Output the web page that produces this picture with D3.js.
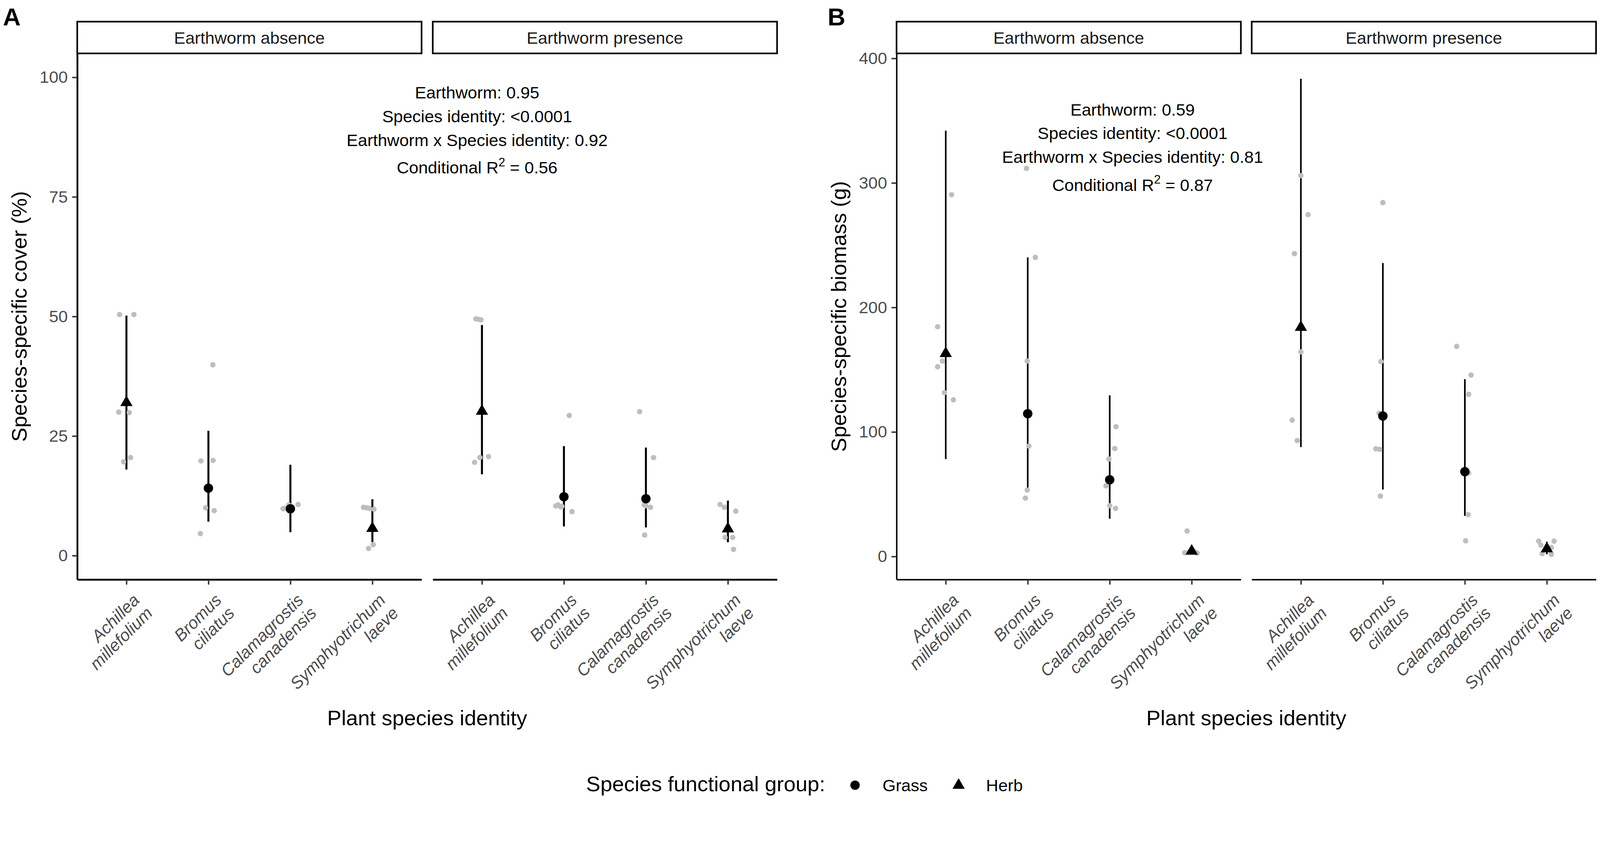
<!DOCTYPE html>
<html>
<head>
<meta charset="utf-8">
<script src="https://cdn.jsdelivr.net/npm/d3@7"></script>
<style>
  html, body { margin: 0; padding: 0; background: #fff; overflow: hidden; width: 100%; height: 100%; }
  #chart { display: block; width: 100vw; height: 100vh; }
  text { font-family: "Liberation Sans", Arial, sans-serif; }
</style>
</head>
<body>
<svg id="chart"></svg>
<script>
// ---- data ----
var species = ["Achillea millefolium", "Bromus ciliatus", "Calamagrostis canadensis", "Symphyotrichum laeve"];
var speciesLines = [["Achillea", "millefolium"], ["Bromus", "ciliatus"], ["Calamagrostis", "canadensis"], ["Symphyotrichum", "laeve"]];
var functionalGroup = ["Herb", "Grass", "Grass", "Herb"];
var treatments = ["Earthworm absence", "Earthworm presence"];
var groupLabels = ["Grass", "Herb"];

// A: species-specific cover (%)
var coverTicks = [0, 25, 50, 75, 100];
var coverMeanAbs = [32.0, 14.1, 9.8, 5.7];
var coverLowAbs = [18.0, 7.1, 4.9, 2.8];
var coverHighAbs = [50.2, 26.1, 19.0, 11.8];
var coverMeanPres = [30.2, 12.3, 11.9, 5.6];
var coverLowPres = [17.0, 6.1, 5.9, 2.8];
var coverHighPres = [48.2, 22.9, 22.6, 11.5];
var coverRawAbs = [
  [50.4, 50.4, 30.0, 29.9, 20.5, 19.6],
  [39.9, 19.8, 19.9, 10.0, 9.4, 4.6],
  [9.8, 10.6, 10.7, 9.3, 10.2, 9.9],
  [10.1, 9.9, 9.7, 2.3, 1.5, 10.0]
];
var coverJitAbs = [
  [-0.084, 0.091, -0.094, 0.034, 0.05, -0.034],
  [0.054, -0.091, 0.057, -0.034, 0.071, -0.098],
  [-0.09, -0.02, 0.094, -0.013, 0.02, -0.07],
  [-0.108, -0.04, 0.02, 0.01, -0.047, -0.074]
];
var coverRawPres = [
  [49.5, 49.3, 49.4, 20.7, 20.5, 19.5],
  [29.3, 10.6, 10.2, 9.2, 10.4, 10.3],
  [30.1, 20.5, 10.4, 10.1, 4.3, 10.6],
  [10.7, 10.1, 9.3, 3.8, 3.8, 1.3]
];
var coverJitPres = [
  [-0.074, -0.012, -0.043, 0.08, -0.025, -0.09],
  [0.065, -0.071, -0.04, 0.099, -0.1, -0.025],
  [-0.077, 0.093, 0, 0.056, -0.015, -0.02],
  [-0.096, -0.043, 0.096, -0.034, 0.059, 0.068]
];
var coverStats = ["Earthworm: 0.95", "Species identity: <0.0001", "Earthworm x Species identity: 0.92"];
var coverR2 = "0.56";

// B: species-specific biomass (g)
var biomassTicks = [0, 100, 200, 300, 400];
var biomassMeanAbs = [163, 114.7, 61.6, 4.3];
var biomassLowAbs = [78.2, 53.3, 30.3, 1.5];
var biomassHighAbs = [342, 240.2, 129.4, 7.5];
var biomassMeanPres = [184, 112.8, 68.1, 6.2];
var biomassLowPres = [87.9, 53.8, 32.6, 1.8];
var biomassHighPres = [383.6, 235.7, 142.4, 11.9];
var biomassRawAbs = [
  [184.5, 290.5, 157, 152.4, 131.6, 125.8],
  [311.6, 240.2, 157, 88.7, 53.3, 46.9],
  [104.2, 86.7, 78.3, 56.7, 40.8, 38.6],
  [20.5, 3.0, 2.7, 3.5, 4.0, 3.2]
];
var biomassJitAbs = [
  [-0.099, 0.071, -0.04, -0.099, -0.015, 0.093],
  [-0.015, 0.093, -0.006, 0.015, -0.006, -0.028],
  [0.077, 0.062, -0.009, -0.046, 0, 0.071],
  [-0.056, -0.084, 0.067, -0.034, 0.025, 0.05]
];
var biomassRawPres = [
  [305.8, 274.5, 243.2, 164.3, 109.5, 93.1],
  [284.2, 156.5, 115, 86.5, 86, 48.5],
  [168.7, 145.7, 130.2, 67.1, 33.6, 12.6],
  [12.3, 12.3, 9.1, 7.2, 2.3, 1.7]
];
var biomassJitPres = [
  [0, 0.088, -0.079, 0, -0.106, -0.046],
  [0, -0.024, -0.045, -0.085, -0.04, -0.03],
  [-0.1, 0.076, 0.046, 0.046, 0.04, 0.009],
  [-0.099, 0.088, -0.072, 0.055, -0.057, 0.055]
];
var biomassStats = ["Earthworm: 0.59", "Species identity: <0.0001", "Earthworm x Species identity: 0.81"];
var biomassR2 = "0.87";

// ---- layout ----
var W = 4433, H = 2220;
var stripTop = 60, stripBottom = 148, axisY = 1606;
var big = 59, small = 47;

var panels = [
  {
    tag: "A", tagX: 8, facets: [[214, 1168], [1199, 2153]], yDomain: [-5, 105], ticks: coverTicks,
    yTitle: "Species-specific cover (%)", lw: 5.5,
    mean: [coverMeanAbs, coverMeanPres], low: [coverLowAbs, coverLowPres], high: [coverHighAbs, coverHighPres],
    raw: [coverRawAbs, coverRawPres], jit: [coverJitAbs, coverJitPres],
    stats: coverStats, r2: coverR2, statX: 1322, statY: [273, 339, 405, 481]
  },
  {
    tag: "B", tagX: 2293, facets: [[2484, 3438], [3468, 4422]], yDomain: [-18.5, 404], ticks: biomassTicks,
    yTitle: "Species-specific biomass (g)", lw: 4.5,
    mean: [biomassMeanAbs, biomassMeanPres], low: [biomassLowAbs, biomassLowPres], high: [biomassHighAbs, biomassHighPres],
    raw: [biomassRawAbs, biomassRawPres], jit: [biomassJitAbs, biomassJitPres],
    stats: biomassStats, r2: biomassR2, statX: 3138, statY: [320, 385, 451, 529]
  }
];

// fixed drawing space, scaled to the window width and pinned to the top-left
var svg = d3.select("#chart")
  .attr("viewBox", "0 0 " + W + " " + H)
  .attr("preserveAspectRatio", "xMinYMin meet");
svg.append("rect").attr("width", W).attr("height", H).attr("fill", "#fff");

var triangle = d3.symbol().type(d3.symbolTriangle).size(500);

panels.forEach(function(p) {
  var y = d3.scaleLinear().domain(p.yDomain).range([axisY, stripBottom]);
  var g = svg.append("g");

  // panel tag
  g.append("text").attr("x", p.tagX).attr("y", 70)
    .style("font-size", "68px").style("font-weight", "bold").attr("fill", "#000").text(p.tag);

  p.facets.forEach(function(f, t) {
    var x = d3.scalePoint().domain(species).range(f).padding(0.6);
    var step = x.step();
    var fg = g.append("g");

    // strip
    fg.append("rect").attr("x", f[0]).attr("y", stripTop)
      .attr("width", f[1] - f[0]).attr("height", stripBottom - stripTop)
      .attr("fill", "#fff").attr("stroke", "#000").attr("stroke-width", 4.5);
    fg.append("text").attr("x", (f[0] + f[1]) / 2).attr("y", (stripTop + stripBottom) / 2 + 17)
      .attr("text-anchor", "middle").style("font-size", small + "px").attr("fill", "#1a1a1a")
      .text(treatments[t]);

    // x axis
    var xa = fg.append("g").attr("transform", "translate(0," + axisY + ")")
      .call(d3.axisBottom(x).tickSize(14).tickSizeOuter(0).tickFormat(""));
    xa.select(".domain").attr("stroke", "#000").attr("stroke-width", p.lw - 0.5);
    xa.selectAll(".tick line").attr("stroke", "#333").attr("stroke-width", 4);

    fg.selectAll(".xlab").data(species).join("text")
      .attr("class", "xlab")
      .attr("transform", function(d) { return "translate(" + (x(d) + 39) + "," + (axisY + 60) + ") rotate(-45)"; })
      .attr("text-anchor", "end").style("font-size", small + "px").style("font-style", "italic")
      .attr("fill", "#4d4d4d")
      .each(function(d, i) {
        var s = d3.select(this);
        s.append("tspan").attr("x", 0).attr("y", 0).text(speciesLines[i][0]);
        s.append("tspan").attr("x", 0).attr("y", 51).text(speciesLines[i][1]);
      });

    // y axis on first facet only
    if (t === 0) {
      var ya = fg.append("g").attr("transform", "translate(" + f[0] + ",0)")
        .call(d3.axisLeft(y).tickValues(p.ticks).tickSize(14).tickSizeOuter(0).tickPadding(12));
      ya.select(".domain").attr("stroke", "#000").attr("stroke-width", p.lw - 0.5);
      ya.selectAll(".tick line").attr("stroke", "#333").attr("stroke-width", 4);
      ya.selectAll(".tick text").style("font-size", small + "px").attr("fill", "#4d4d4d")
        .style("font-family", "'Liberation Sans', Arial, sans-serif");
    }

    var rows = species.map(function(s, i) {
      return { sp: s, i: i, mean: p.mean[t][i], low: p.low[t][i], high: p.high[t][i], group: functionalGroup[i] };
    });

    // error bars
    fg.selectAll(".err").data(rows).join("line")
      .attr("x1", function(d) { return x(d.sp); }).attr("x2", function(d) { return x(d.sp); })
      .attr("y1", function(d) { return y(d.low); }).attr("y2", function(d) { return y(d.high); })
      .attr("stroke", "#000").attr("stroke-width", p.lw);

    // raw observations
    var pts = [];
    rows.forEach(function(r) {
      p.raw[t][r.i].forEach(function(v, k) {
        pts.push({ sp: r.sp, v: v, j: p.jit[t][r.i][k] });
      });
    });
    fg.selectAll(".pt").data(pts).join("circle")
      .attr("cx", function(d) { return x(d.sp) + d.j * step; })
      .attr("cy", function(d) { return y(d.v); })
      .attr("r", 7.5).attr("fill", "#bebebe");

    // model means
    fg.selectAll(".mc").data(rows.filter(function(d) { return d.group === "Grass"; })).join("circle")
      .attr("cx", function(d) { return x(d.sp); }).attr("cy", function(d) { return y(d.mean); })
      .attr("r", 13).attr("fill", "#000");
    fg.selectAll(".mt").data(rows.filter(function(d) { return d.group === "Herb"; })).join("path")
      .attr("d", triangle)
      .attr("transform", function(d) { return "translate(" + x(d.sp) + "," + y(d.mean) + ")"; })
      .attr("fill", "#000");
  });

  // axis titles
  var plotMid = (p.facets[0][0] + p.facets[1][1]) / 2;
  g.append("text").attr("x", plotMid).attr("y", 2010).attr("text-anchor", "middle")
    .style("font-size", big + "px").attr("fill", "#000").text("Plant species identity");
  g.append("text")
    .attr("transform", "translate(" + (p.facets[0][0] - 140) + "," + ((stripBottom + axisY) / 2) + ") rotate(-90)")
    .attr("text-anchor", "middle").style("font-size", big + "px").attr("fill", "#000").text(p.yTitle);

  // statistics annotation
  var st = g.append("g").attr("text-anchor", "middle").style("font-size", small + "px").attr("fill", "#000");
  p.stats.forEach(function(s, k) {
    st.append("text").attr("x", p.statX).attr("y", p.statY[k]).text(s);
  });
  var r2 = st.append("text").attr("x", p.statX).attr("y", p.statY[3]);
  r2.append("tspan").text("Conditional R");
  r2.append("tspan").attr("dy", -20).style("font-size", "33px").text("2");
  r2.append("tspan").attr("dy", 20).text(" = " + p.r2);
});

// legend
var lg = svg.append("g").style("font-size", big + "px");
var ly = 2193;
lg.append("text").attr("x", 1624).attr("y", ly).attr("fill", "#000").text("Species functional group:");
lg.append("circle").attr("cx", 2369).attr("cy", ly - 17).attr("r", 13).attr("fill", "#000");
lg.append("text").attr("x", 2445).attr("y", ly).style("font-size", small + "px").text(groupLabels[0]);
lg.append("path").attr("d", triangle).attr("transform", "translate(2656," + (ly - 17) + ")").attr("fill", "#000");
lg.append("text").attr("x", 2732).attr("y", ly).style("font-size", small + "px").text(groupLabels[1]);
</script>
</body>
</html>
